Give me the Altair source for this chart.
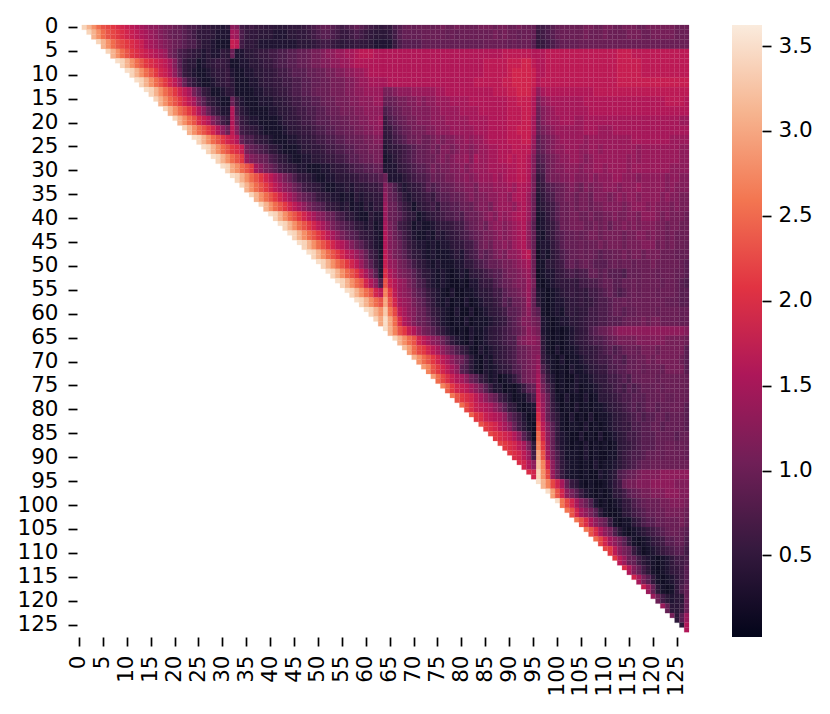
import altair as alt
import pandas as pd

alt.data_transformers.disable_max_rows()

VMIN = 0.02
VMAX = 3.624
N = 128
tick_values = [0, 5, 10, 15, 20, 25, 30, 35, 40, 45, 50, 55, 60, 65, 70, 75, 80, 85, 90, 95,
               100, 105, 110, 115, 120, 125]
bar_ticks = [0.5, 1.0, 1.5, 2.0, 2.5, 3.0, 3.5]
rocket = ["#03051a", "#35193e", "#701f57", "#ad1759", "#e13342", "#f37651", "#f6b48f", "#faebdd"]

# Level of the characters 0-9; a = 1.0, b = 1.1 ... z = 3.5 are in tenths.
dark_levels = [0.15, 0.25, 0.35, 0.45, 0.5, 0.55, 0.65, 0.75, 0.85, 0.95]

# Values: one character per cell.
# Groups of 8 columns, right aligned on column 127.
# The key is the first row the string applies to; it holds for that row and the next.
rows_a = {
    0: "zyvspnml kjihgfed dcbba987 76453323 dc656554 43334445 67899876 78987654 55789a9a aa9abaab aaaabbba bbaabaa9 66789aaa aabbaabb aabbbaab bbbbbaaa",
    1: "zzyvspnm lkjihgfe dcba9987 64443222 fe754433 32223344 56788765 56765433 34689999 aaaaa9a9 aaaaaaab abaa9aa9 56789aaa aabaaaba aaabbbaa bbbbbaaa",
    3: "zzzzyvsp nmlkjigf edcba987 75332111 ih644322 22222233 34566543 44544322 22578888 99999999 99999aaa aa9a9aa8 45678999 9aaaaaaa aaaaaaaa aaaaaaaa",
    5: "zzzzzzyv spnlkjih gfeb9765 43232243 a2233455 66778899 abbcddee ffghhhgg gggggggg gggggggg gggggggg ghhhhhhg gghhhhhh hhhhhhhh hiiihhhh hhhhhhhh",
    7: "zyvspnlk jihfc853 31234554 11223345 56778899 abbccdde efgggggg gggggggg gggggggg ggggghhh hhiiijjh gghhhhhh hhhhhhhh hiiiiihh hhhhhhhh",
    9: "zzzyvspn ljigd953 21123445 21122334 45667888 99aabbcc ddeefggg gggggggg gggggggg ggggghhh hhijjjji gghhhhhh hhhhhhhh hiiiiihh hhhhhhhh",
    11: "zzzzzyvs pnljhe96 42112345 31112234 45566778 899aabbb ccdeefff fggggggg gggggggg ggghhhhh hiijjjji ghhhhhhh hhhhhhhh hiiiiiii iiiiiiii",
    13: "zzzzzzzy vspnljhf b8531123 41111223 34556778 89aaabbb ccddeeee bbcdddee eeeffggg gggggggh hhiijjjh dfgggggg gggghhhh hhhhhhhh hhhhhhhh",
    15: "yvspnljh fb853211 a5211122 23345667 7889aabb bccdddee 99abbccd cddeeeff ffgggggg gghhiiig bdefffff ffgggggg gggggggg ggghhhhg",
    17: "zzyvspnl jgd96422 g7321111 22334566 77889aab bbccdddd 789abbcc ccddeeee ffffgggg gghhhiig acdeffff fffggggg gggggggg gggggggg",
    19: "zzzzyvsp nkigc964 g9532211 11234456 6788899a abbccdde 5789abbc ccdddeee eeffffgg gghhhiif 9cdeefff eeffffff ffffffff ffffffee",
    21: "zzzzzzyv spnljgda hc654321 11123345 56778899 aabbccdd 45789abb bccdddee eeefffgg gghhiiif 9bcdeeee eefffeee ffffffff ffffffff",
    23: "zyvspnlj ig977543 21112234 45667788 99aabbcc 34678aab aabcbccd dedeefgg gghhhiie 8abcdeee eedeeeee eeeeffff ffffeeee",
    25: "zzzyvspn lkib9876 43211123 34456677 889aabbb 23456789 9abaccbc ddcdeeff ggghhhhd 89bcddee eddeedee eeeeedee eeeeeedd",
    27: "zzzzzyvs pnlecba9 76432112 23345566 7889aabb 12356789 9aabcbcd decfeeff gghghhgc 78abcdde edcdeeee eeededee eeeeeedd",
    29: "zzzzzzzy uspnlfdb a8654322 11122344 56778899 22245678 89babbcc dcdeeeff ffgghhgc 67abccdd dcddeede eeedeeee eeeedddd",
    31: "zyvspnlj hfdb9754 32112233 34566778 a2223567 78a9abbc cdcdeeef efgghhgb 46abbccd cccdcddd eedddcdd dddcddcc",
}
rows_b = {
    33: "zzyvspnl jhfdca86 54321122 32434556 c9742345 687899ab bccbddde eefeggfb 35789abc bacbccdd dcdddedd dddcdccc",
    35: "zzzzyvsp nljhfdb9 87543221 21323344 d9863234 56578899 abcbccdd eedfggea 24679abb abbacccb cdcddcdd ddcdccbb",
    37: "zzzzzzyv spnljhfd b9875432 31213243 ea975313 45647788 9a9bccbd eeedfgea 23568aab abbabbcc ccbcdddc dcccbcbb",
    39: "zyvspnlj hfdca976 43211322 ea986431 23456778 79aabcdc edefgge9 12468aab baabaabb cbbccbdd dcbcbbba",
    41: "zzzyvspn ljhfdb98 76432312 fb965312 11234456 689abacd dcdefgd8 12357aab bbaabab9 bbcbcbcc cbbabbaa",
    43: "zzzzzyvs pnljhfdb 98754321 gca86421 12132345 6789abbc dcdefgd9 21357899 a9abbabb bbabbccb cbbabaaa",
    45: "zzzzzzzy vspnljhg eca86421 gcb97532 21212234 4668abac cdcefgd9 12246899 9a9aabab bbabbbcc cababaa9",
    47: "zyvspnlj hgec9641 hdba8643 21211123 2567989b cbddegh9 02135789 9a9a9899 aababbab bbaaa999",
    49: "zzzyvspn ljheb852 iedba864 32121112 24467899 abbcdefa 11335689 89a98889 a9aa9aaa baaaaa98",
    51: "zzzzzyvs pnlifc82 kgecba86 43212101 21345678 8abbcdea 01224567 67799898 887999aa a9aaa998",
    53: "zzzzzzzy vspnjgd7 nigedb97 63212100 10224557 89abcceb 10123445 46677899 8899a9aa aa9aa987",
    55: "zyvspnjh rlhedca8 75321020 01123346 689abcea 21012345 45466789 8789a9aa a9aaa988",
    57: "zzzyvspn unjfedb9 86421201 02012335 6879abe9 31012234 45456778 99a9aaaa aaa99988",
    59: "zzzzzyvs xqmhfdca 97532102 00201234 56889bda 81012134 34466778 99899aaa a9aaaa99",
    61: "zzzzzzyu zupkgeca a8642101 02011123 4578accb a2101223 34566778 889aaaba bbaaaa99",
    63: "zvrnligd ba864210 10211234 56789bdc b2101012 345789ab cddddddd dddddddc",
}
rows_c = {
    65: "zzyvspnj hfdca742 10201234 5677bcdd c3101012 34567789 abbbbccc cccbbbba",
    67: "zzzzwtpm ljhfdb97 53102123 45679abc c4102011 23445678 789aa9bb babbbbb8",
    69: "zzzzzzvs pnljhfdb a7310213 45679abc d5210201 12345667 88799aab abbbbba8",
    71: "trnljhfd 87310212 34578abc e7310102 11234557 78899a9a aa9bbbb8",
    73: "zztpmkig fda85312 01247abc f9520100 21123446 678799aa a9aaaaa9",
    75: "zzzzrolj ihfdb852 20102589 gb730101 20112345 67687899 9a9aaaa9",
    77: "zzzzzzqn lkjhfdb9 64201147 hd941020 10201334 56778889 99a99aa9",
    79: "pmkihgfd b8531012 ie952010 20101123 45678789 9899aaa8",
    81: "zzolkihg fd975201 kf963102 01020112 34567878 89989998",
    83: "zzzznlkj hfd96310 mhc84101 10201012 34557788 99899998",
    85: "zzzzzzml kjigd850 pjd94210 02010201 23466788 89999899",
    87: "mlkjhfb3 rle95210 10201010 13456788 899aa9a9",
    89: "zzlkjhe6 unfb7311 10201001 13567789 9a9aaaa9",
    91: "zzzzkjgd wrjd8421 10102011 23567899 aaaaaaaa",
    93: "zzzzzzkj ysme9521 10100212 3789abcc ccdddddd",
    95: "zvrmjf95 31010012 46abbccc dddddccc",
}
rows_d = {
    97: "zzztnjdb 85210101 34689abb cccdddcc",
    99: "zzzzzqmj fca72010 1245789a aabbcccb",
    101: "zzzzzzqn jfdb8310 01346789 9aabbbba",
    103: "qnkgdb95 10113578 899aaab9",
    105: "zzqnkgdb 73101235 6789aa98",
    107: "zzzzpmjf db841012 45688997",
    109: "zzzzzzml hdb95201 23567886",
    111: "lhea9632 10124667",
    113: "zzkgc963 10124568",
    115: "zzzzjfb8 41012468",
    117: "zzzzzzie 93101479",
    119: "ea63233a",
    121: "zze9335a",
    123: "zzzzb38e",
    125: "zzzzzz3g",
}


def level(ch):
    code = int(ch, 36)
    return dark_levels[code] if code < 10 else code / 10


records = []
for table in (rows_a, rows_b, rows_c, rows_d):
    for start, text in table.items():
        span = [0] if start == 0 else [start, start + 1]
        chunks = text.split()
        for pos, chunk in enumerate(reversed(chunks)):
            block = 15 - pos
            chunk = chunk.rjust(8, chunk[0])[-8:]
            for c, ch in enumerate(chunk):
                col = block * 8 + c
                for row in span:
                    if col > row:
                        records.append({"row": row, "col": col, "v": level(ch)})
df = pd.DataFrame(records)

FONT = "DejaVu Sans"
axis_style = dict(
    title=None, domain=False, grid=False, tickSize=9, tickWidth=1.7, tickColor="#000",
    labelColor="#000", labelFont=FONT, labelFontSize=21.5, labelOverlap=False,
    labelBound=False,
)
order = list(range(N))
color_scale = alt.Scale(domain=[VMIN, VMAX], range=rocket, clamp=True)

heat = alt.Chart(df).mark_rect(strokeWidth=0.2).encode(
    x=alt.X("col:O", scale=alt.Scale(domain=order, paddingInner=0, paddingOuter=0),
            axis=alt.Axis(values=tick_values, orient="bottom", labelAngle=270, labelAlign="right",
                          labelBaseline="middle", labelPadding=9, **axis_style)),
    y=alt.Y("row:O", scale=alt.Scale(domain=order, paddingInner=0, paddingOuter=0),
            axis=alt.Axis(values=tick_values, orient="left", labelAngle=0, labelPadding=10, **axis_style)),
    color=alt.Color("v:Q", legend=None, scale=color_scale),
    stroke=alt.Stroke("v:Q", legend=None, scale=color_scale),
).properties(width=612, height=612)

stops = [alt.GradientStop(offset=i / (len(rocket) - 1), color=c) for i, c in enumerate(rocket)]
gradient = alt.LinearGradient(gradient="linear", stops=stops, x1=0, x2=0, y1=1, y2=0)
bar_df = pd.DataFrame({"low": [VMIN], "high": [VMAX]})
bar = alt.Chart(bar_df).mark_rect(color=gradient).encode(
    y=alt.Y("low:Q", scale=alt.Scale(domain=[VMIN, VMAX], nice=False, zero=False),
            axis=alt.Axis(values=bar_ticks, format=".1f", orient="right", labelPadding=7, **axis_style)),
    y2="high:Q",
    x=alt.value(0),
    x2=alt.value(30),
).properties(width=30, height=612)

chart = alt.hconcat(heat, bar, spacing=42).properties(
    padding={"left": 8, "top": 7, "right": 0, "bottom": 0}
).configure_view(stroke=None)

chart.save("out.html", embed_options={"renderer": "svg", "actions": False})
